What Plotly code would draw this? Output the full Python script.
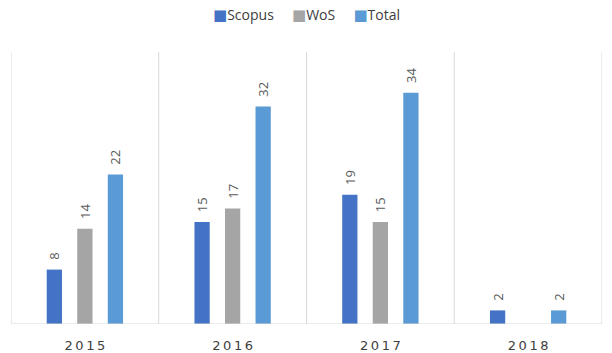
import plotly.graph_objects as go

years = ["2015", "2016", "2017", "2018"]
scopus = [8, 15, 19, 2]
wos = [14, 17, 15, None]
total = [22, 32, 34, 2]

series = [("Scopus", scopus, "#4472C4"), ("WoS", wos, "#A5A5A5"), ("Total", total, "#5B9BD5")]

NB = "\u00a0"
fig = go.Figure()
for name, vals, col in series:
    fig.add_trace(go.Bar(
        x=years, y=vals, name=name, marker=dict(color=col, line=dict(width=0)),
        text=[("" if v is None else NB * 2 + str(v)) for v in vals],
        textposition="outside", textangle=-90, cliponaxis=False, constraintext="none",
        textfont=dict(family="Open Sans, sans-serif", size=13, color="#595959"),
        showlegend=False,
    ))

shapes = []
for xv in [-0.5, 0.5, 1.5, 2.5, 3.5]:
    shapes.append(dict(type="line", xref="x", yref="paper", x0=xv, x1=xv, y0=0, y1=1,
                       line=dict(color="#D9D9D9", width=1)))
shapes.append(dict(type="line", xref="paper", yref="y", x0=0, x1=1, y0=0, y1=0,
                   line=dict(color="#D9D9D9", width=1)))

legend_text = (NB * 5).join(
    f'<span style="color:{col};font-family:DejaVu Sans;font-size:15px">■</span>{name}'
    for name, _, col in series
)
annotations = [dict(text=legend_text, xref="paper", yref="paper", x=0.5, y=1, yshift=38,
                    xanchor="center", yanchor="middle", showarrow=False,
                    font=dict(family="Open Sans, sans-serif", size=14, color="#404040"))]

spaced = ["\u2009".join(y) for y in years]

fig.update_layout(
    width=612, height=353,
    margin=dict(l=11, r=10, t=52, b=29),
    paper_bgcolor="white", plot_bgcolor="white",
    barmode="group", bargap=0.38, bargroupgap=0.5,
    showlegend=False,
    xaxis=dict(showgrid=False, showline=False, ticks="outside", ticklen=9, tickcolor="rgba(0,0,0,0)",
               automargin=False,
               range=[-0.5, 3.5], tickmode="array", tickvals=years, ticktext=spaced,
               tickfont=dict(family="DejaVu Sans, sans-serif", size=13, color="#404040")),
    yaxis=dict(range=[0, 40], showgrid=False, showticklabels=False, zeroline=False, showline=False,
               automargin=False),
    shapes=shapes,
    annotations=annotations,
)

fig.write_html("out.html")
